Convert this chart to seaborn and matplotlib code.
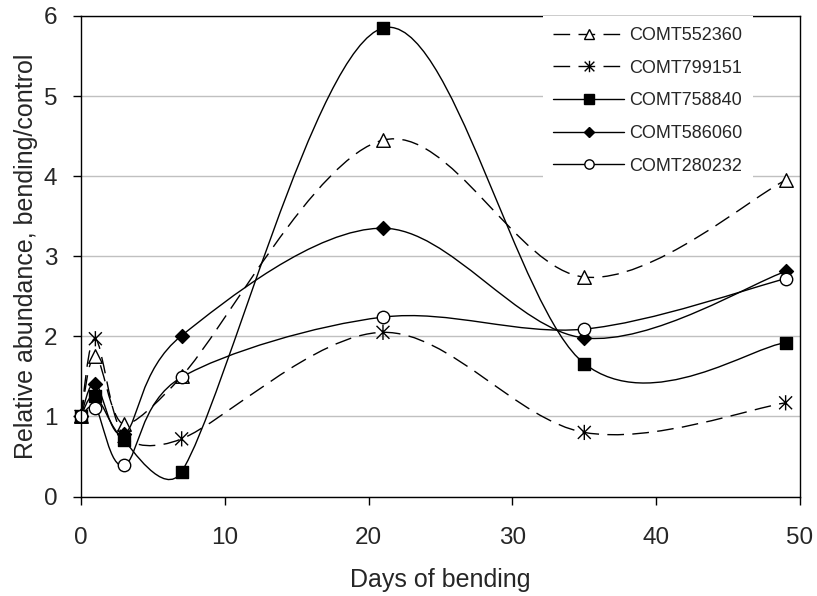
import numpy as np
import pandas as pd
import matplotlib as mpl
mpl.use("Agg")
import matplotlib.pyplot as plt
import seaborn as sns
from matplotlib.path import Path
from matplotlib.patches import PathPatch
from matplotlib.lines import Line2D

# data
days = [0, 1, 3, 7, 21, 35, 49]
genes = ["COMT552360", "COMT799151", "COMT758840", "COMT586060", "COMT280232"]
comt552360 = [1.0, 1.76, 0.90, 1.50, 4.45, 2.74, 3.95]
comt799151 = [1.0, 1.97, 0.75, 0.72, 2.05, 0.80, 1.17]
comt758840 = [1.0, 1.25, 0.70, 0.31, 5.85, 1.66, 1.92]
comt586060 = [1.0, 1.41, 0.78, 2.01, 3.35, 1.98, 2.81]
comt280232 = [1.0, 1.11, 0.39, 1.49, 2.24, 2.09, 2.72]
values = [comt552360, comt799151, comt758840, comt586060, comt280232]

df = pd.DataFrame({"day": days * len(genes),
                   "gene": np.repeat(genes, len(days)),
                   "value": np.concatenate(values)})

# asterisk marker (x with a vertical bar)
star = Path([(0, -1), (0, 1), (-0.85, -0.85), (0.85, 0.85), (-0.85, 0.85), (0.85, -0.85)],
            [Path.MOVETO, Path.LINETO] * 3)

styles = {
    "COMT552360": dict(ls=(0, (12, 6)), marker="^", face="white", s=95),
    "COMT799151": dict(ls=(0, (12, 6)), marker=star, face="none", s=120),
    "COMT758840": dict(ls="-", marker="s", face="black", s=75),
    "COMT586060": dict(ls="-", marker="D", face="black", s=50),
    "COMT280232": dict(ls="-", marker="o", face="white", s=80),
}

sns.set_style("white")
plt.rcParams["font.family"] = ["Liberation Sans", "DejaVu Sans"]

fig = plt.figure(figsize=(8.17, 5.96), dpi=100)
ax = fig.add_axes([81 / 817, 99.5 / 596, 719 / 817, 480.5 / 596])
ax.set_xlim(0, 50)
ax.set_ylim(0, 6)


def excel_smooth(xs, ys):
    # Excel-like smoothed line: bezier segments, arms limited by segment length
    pts = np.column_stack([xs, ys]).astype(float)
    scr = ax.transData.transform(pts)
    n = len(pts)
    verts = [pts[0]]
    codes = [Path.MOVETO]
    for i in range(n - 1):
        i0, i3 = max(i - 1, 0), min(i + 2, n - 1)
        p0, p1, p2, p3 = pts[i0], pts[i], pts[i + 1], pts[i3]
        s0, s1, s2, s3 = scr[i0], scr[i], scr[i + 1], scr[i3]
        d02 = np.hypot(*(s2 - s0))
        d12 = np.hypot(*(s2 - s1))
        d13 = np.hypot(*(s3 - s1))
        big0 = d02 / 6 >= d12 / 2
        big3 = d13 / 6 >= d12 / 2
        if not big0 and not big3:
            f1 = f2 = 1 / 6
        elif big0 and big3:
            f1 = d12 / 2 / d02
            f2 = d12 / 2 / d13
        elif big0:
            f1 = f2 = d12 / 2 / d02
        else:
            f1 = f2 = d12 / 2 / d13
        c1 = p1 + (p2 - p0) * f1
        c2 = p2 - (p3 - p1) * f2
        verts += [c1, c2, p2]
        codes += [Path.CURVE4] * 3
    return Path(verts, codes)


ax.yaxis.grid(True, color="#c0c0c0", lw=1.0, zorder=0)
ax.set_axisbelow(True)

handles = []
for k, gene in enumerate(genes):
    st = styles[gene]
    sub = df[df.gene == gene]
    path = excel_smooth(sub.day.values, sub.value.values)
    ax.add_patch(PathPatch(path, fill=False, edgecolor="black", lw=1.0,
                           linestyle=st["ls"], zorder=2 + k * 0.1))
    sns.scatterplot(data=sub, x="day", y="value", marker=st["marker"], s=st["s"],
                    color=st["face"], edgecolor="black", linewidth=1.0,
                    ax=ax, zorder=2.05 + k * 0.1, legend=False, clip_on=False)
    handles.append(Line2D([], [], color="black", lw=1.0, linestyle=st["ls"],
                          marker=st["marker"], markersize=np.sqrt(st["s"]) * 0.75,
                          markerfacecolor=st["face"], markeredgecolor="black"))

for sp in ax.spines.values():
    sp.set_visible(True)
    sp.set_color("black")
    sp.set_linewidth(1.0)

ax.set_xticks([0, 10, 20, 30, 40, 50])
ax.set_yticks([0, 1, 2, 3, 4, 5, 6])
ax.tick_params(axis="both", direction="out", length=6, width=1, color="black",
               labelsize=17.5, left=True, bottom=True)
ax.tick_params(axis="x", pad=16)
ax.tick_params(axis="y", pad=11)
ax.set_xlabel("Days of bending", fontsize=18, labelpad=14)
ax.set_ylabel("Relative abundance, bending/control", fontsize=18, labelpad=4)

leg = ax.legend(handles, genes, loc="upper right", bbox_to_anchor=(0.935, 1.0),
                borderaxespad=0, fontsize=13, handlelength=3.9, handletextpad=0.3,
                labelspacing=0.87, borderpad=0.6, frameon=True, fancybox=False,
                framealpha=1)
leg.get_frame().set_edgecolor("none")
leg.get_frame().set_facecolor("white")
leg.set_zorder(5)

fig.savefig("out.png", dpi=100)
